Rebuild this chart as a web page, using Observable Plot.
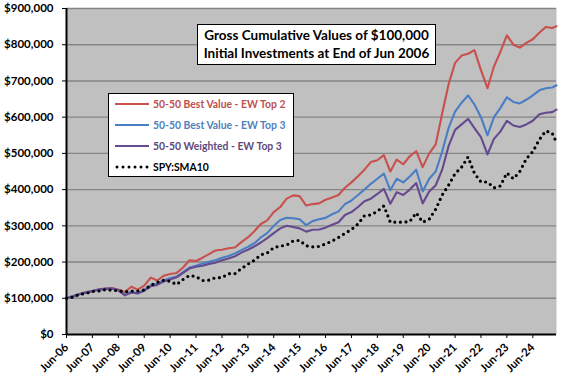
<!DOCTYPE html>
<html>
<head>
<meta charset="utf-8">
<script src="https://cdn.jsdelivr.net/npm/d3@7"></script>
<script src="https://cdn.jsdelivr.net/npm/@observablehq/plot@0.6"></script>
<style>
  body { margin: 0; background: white; }
  #wrap { position: relative; width: 576px; height: 384px; font-family: Lato, "Noto Sans", sans-serif; font-weight: bold; }
  .title { position: absolute; left: 197px; top: 24px; width: 237px; height: 38px; background: white; border: 1px solid black;
           font-size: 13.5px; line-height: 18px; text-align: center; padding-top: 1px; color: black; }
  .legend { position: absolute; left: 108px; top: 93px; width: 184px; height: 82px; background: white; border: 1px solid black; }
  .row { position: absolute; left: 6px; height: 16px; display: flex; align-items: center; font-size: 10.4px; white-space: nowrap; }
  .row svg { margin-right: 4px; }
</style>
</head>
<body>
<div id="wrap"></div>
<script>
// Quarterly month offsets from end of Jun 2006, last point May 2025
const start = new Date(Date.UTC(2006, 5, 1));
const monthOffsets = [...d3.range(0, 226, 3), 227];
const dates = monthOffsets.map(m => d3.utcMonth.offset(start, m));
const tickYears = d3.range(2006, 2025);
const yTicks = d3.range(0, 901, 100); // thousands of dollars

const seriesNames = ["50-50 Best Value - EW Top 2", "50-50 Best Value - EW Top 3", "50-50 Weighted - EW Top 3", "SPY:SMA10"];
const seriesColors = ["#C8504D", "#4A7EC4", "#644A8E", "#000000"];
const legendTextColors = ["#C0504D", "#4F81BD", "#604A7B", "#000000"];

// values in $ thousands
const bestValueTop2 = [100,106,112,117, 120,125,127,128, 124,117,132,124, 135,157,149,162, 167,170,185,205,
  203,212,222,232, 234,238,240,255, 268,285,305,315, 338,352,375,384, 382,356,360,362, 372,378,385,405,
  420,437,455,476, 481,495,450,483, 470,492,506,462, 500,525,610,690, 750,770,775,785, 730,680,740,780,
  826,800,792,805, 815,833,849,846, 851];
const bestValueTop3 = [100,106,112,116, 120,124,126,127, 122,110,118,114, 123,136,140,150, 155,160,172,185,
  190,196,201,205, 212,217,224,233, 242,252,268,280, 300,316,322,321, 318,302,313,318, 322,332,340,360,
  370,385,400,416, 430,444,398,430, 420,436,455,395, 430,450,505,570, 615,640,660,635, 600,550,600,625,
  655,642,638,648, 660,674,680,682, 688];
const weightedTop3 = [100,105,111,115, 119,124,126,127, 122,108,116,113, 121,133,137,146, 152,158,170,182,
  187,190,195,198, 205,210,216,226, 234,243,254,266, 280,293,300,297, 293,284,289,290, 295,303,310,330,
  338,352,368,375, 388,402,361,393, 385,400,418,362, 395,412,455,520, 565,580,595,570, 545,497,540,560,
  590,577,573,580, 590,608,612,614, 621];
const spySma10 = [100,103,111,113, 119,120,124,122, 121,118,120,120, 123,136,144,150, 147,138,152,163,
  160,149,150,157, 157,168,168,182, 194,205,220,225, 240,244,247,258, 260,245,242,243, 250,258,268,279,
  290,305,328,330, 340,355,310,310, 310,312,336,310, 318,346,385,412, 444,462,490,445, 421,421,405,410,
  446,430,450,485, 505,538,562,556, 530];

const seriesValues = [bestValueTop2, bestValueTop3, weightedTop3, spySma10];
const rows = seriesNames.map((name, k) => dates.map((d, i) => ({date: d, value: seriesValues[k][i], series: name})));

const fmtDollar = v => "$" + d3.format(",")(v * 1000);
const xTicks = tickYears.map(y => new Date(Date.UTC(y, 5, 1)));

const chart = Plot.plot({
  width: 576, height: 384,
  marginLeft: 66, marginRight: 20, marginTop: 8, marginBottom: 50,
  style: {fontFamily: "Lato, 'Noto Sans', sans-serif", fontWeight: "bold", background: "white", color: "black", overflow: "visible"},
  x: {type: "utc", domain: [start, dates[dates.length - 1]], ticks: xTicks, tickFormat: d3.utcFormat("%b-%y"), label: null},
  y: {domain: [0, 900], ticks: yTicks, label: null},
  marks: [
    Plot.frame({fill: "#C0C0C0", stroke: null}),
    Plot.gridY(yTicks.filter(v => v > 0), {stroke: "#858585", strokeOpacity: 1, strokeWidth: 1.4}),
    ...rows.slice(0, 3).map((r, k) => Plot.line(r, {x: "date", y: "value", stroke: seriesColors[k], strokeWidth: 2.1, strokeLinejoin: "round"})),
    Plot.line(rows[3], {x: "date", y: "value", stroke: seriesColors[3], strokeWidth: 3.2, strokeDasharray: "0,5.6", strokeLinecap: "round"}),
    Plot.ruleY([0], {stroke: "black", strokeWidth: 2}),
    Plot.ruleX([start], {stroke: "black", strokeWidth: 2}),
    Plot.axisY({ticks: yTicks, tickFormat: fmtDollar, tickSize: 4, tickPadding: 9, fontSize: 11.5, fontWeight: "bold", label: null}),
    Plot.axisX({ticks: xTicks, tickFormat: d3.utcFormat("%b-%y"), tickSize: 4,
      tickRotate: -45, tickPadding: 7, fontSize: 11.3, fontWeight: "bold", label: null})
  ]
});

const wrap = document.getElementById("wrap");
wrap.appendChild(chart);

const title = document.createElement("div");
title.className = "title";
title.innerHTML = "Gross Cumulative Values of $100,000<br>Initial Investments at End of Jun 2006";
wrap.appendChild(title);

const legend = document.createElement("div");
legend.className = "legend";
seriesNames.forEach((name, k) => {
  const row = document.createElement("div");
  row.className = "row";
  row.style.top = (2 + k * 21) + "px";
  const dotted = k === 3;
  row.innerHTML = `<svg width="34" height="6"><line x1="${dotted ? 2 : 0}" y1="3" x2="34" y2="3" stroke="${seriesColors[k]}" stroke-width="${dotted ? 3 : 2}" ${dotted ? 'stroke-dasharray="0,6" stroke-linecap="round"' : ''}/></svg><span style="color:${legendTextColors[k]}">${name}</span>`;
  legend.appendChild(row);
});
wrap.appendChild(legend);
</script>
</body>
</html>
